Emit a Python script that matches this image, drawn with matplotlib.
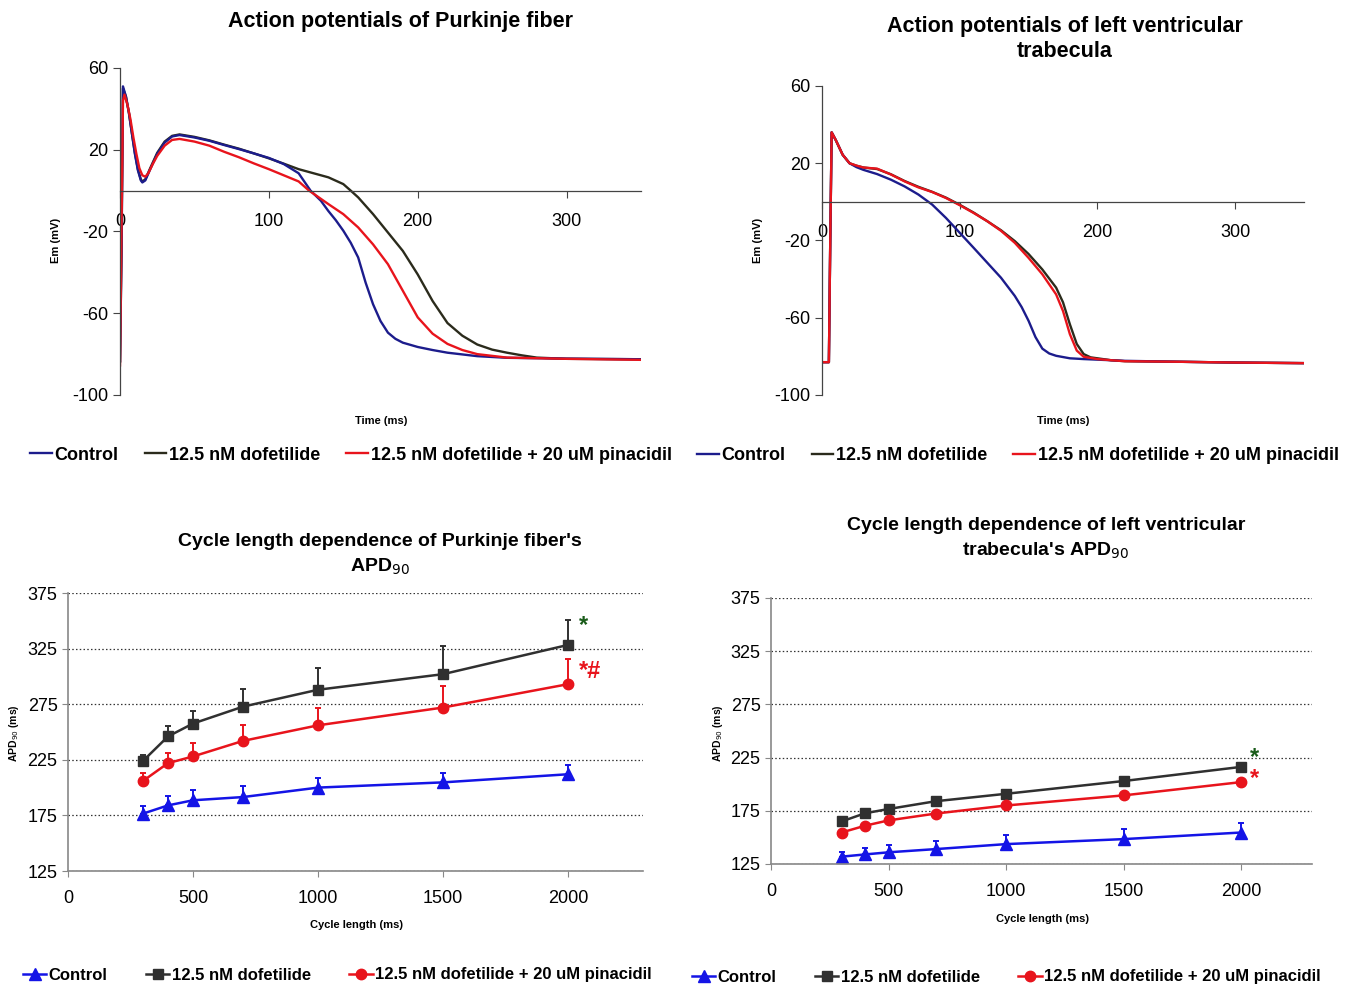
import numpy as np
import matplotlib.pyplot as plt
from matplotlib.lines import Line2D

plt.rcParams['font.family'] = ['Liberation Sans', 'DejaVu Sans']
plt.rcParams['axes.unicode_minus'] = False

# --- action potentials, Purkinje fiber (t in ms, Em in mV)
pk_ctrl_t = [-1, 0, 1, 2, 4, 6, 8, 10, 12, 14, 15, 17, 20, 25, 30, 35, 40, 50, 60, 70, 80, 90, 100,
             110, 120, 128, 135, 140, 145, 150, 155, 160, 165, 170, 175, 180, 185, 190, 200, 210,
             220, 240, 260, 300, 350]
pk_ctrl_v = [-82, -84, -30, 51, 46, 38, 28, 18, 10, 5, 4, 5, 10, 18, 23.5, 26.5, 27.2, 26, 24.4, 22.3,
             20.3, 18.2, 16, 13, 8.5, 0, -5, -10, -14.5, -19.6, -25.5, -32.7, -45, -55.6, -63.8, -69.5,
             -72.5, -74.4, -76.5, -78, -79.3, -81, -81.8, -82.2, -82.5]
pk_dof_t = [-1, 0, 1, 2, 4, 6, 8, 10, 12, 14, 15, 17, 20, 25, 30, 35, 40, 50, 60, 70, 80, 90, 100,
            110, 120, 130, 140, 150, 155, 160, 170, 180, 190, 200, 210, 220, 230, 240, 250, 260,
            270, 280, 300, 350]
pk_dof_v = [-82, -84, -30, 50, 46, 38, 28, 18.5, 10.5, 5.5, 4.5, 5.5, 10.5, 18.5, 24, 26.8, 27.5, 26.3,
            24.6, 22.5, 20.5, 18.2, 15.8, 13.2, 10.5, 8.5, 6.5, 3.2, 0, -3.3, -11.5, -20.5, -29.5, -41,
            -54, -64.8, -71, -75.3, -77.8, -79.3, -80.6, -81.7, -82.3, -82.5]
pk_pin_t = [-1, 0, 1, 2, 3, 5, 7, 9, 11, 13, 15, 17, 19, 22, 25, 30, 35, 40, 50, 60, 70, 80, 90, 100,
            110, 120, 127, 130, 140, 150, 160, 170, 180, 190, 200, 210, 220, 230, 240, 260, 300, 350]
pk_pin_v = [-85, -86, -20, 44, 47, 42, 35, 26, 18, 11, 7.5, 6.8, 8.5, 13, 17, 22, 24.8, 25.3, 24, 22,
            19, 16.3, 13.3, 10.5, 7.5, 4.5, 0, -1.5, -6.6, -11.5, -18, -26.3, -36, -49, -62, -70, -75,
            -78, -80, -81.7, -82.3, -82.8]

# --- action potentials, left ventricular trabecula
lv_ctrl_t = [0, 5, 6, 7, 10, 15, 20, 25, 30, 40, 50, 60, 70, 80, 90, 100, 110, 120, 130, 140, 145,
             150, 155, 160, 165, 170, 180, 190, 200, 220, 260, 300, 350]
lv_ctrl_v = [-83, -83, -20, 36, 32, 24.4, 20, 18, 16.6, 14.4, 11.5, 8, 3.8, -1.4, -8.3, -16, -23.7,
             -31.5, -39.3, -48.7, -54.5, -61.6, -70, -76, -78.5, -79.7, -81, -81.4, -81.7, -82.3,
             -82.8, -83.2, -83.5]
lv_dof_t = [0, 5, 6, 7, 10, 15, 20, 25, 30, 40, 50, 60, 70, 80, 90, 100, 110, 120, 130, 140, 150,
            160, 170, 175, 180, 185, 190, 195, 200, 210, 220, 260, 300, 350]
lv_dof_v = [-83, -83, -20, 36, 32, 24.4, 20, 18.7, 17.8, 17, 14.3, 10.8, 7.8, 5.2, 2.2, -1.5, -5.5,
            -10, -14.7, -20.3, -27, -35, -44.4, -52, -63.4, -73.6, -78.8, -80.5, -81, -82, -82.5,
            -82.8, -83.2, -83.5]
lv_pin_t = [0, 5, 6, 7, 10, 15, 20, 25, 30, 40, 50, 60, 70, 80, 90, 100, 110, 120, 130, 140, 150,
            160, 170, 175, 180, 185, 190, 200, 210, 220, 260, 300, 350]
lv_pin_v = [-83, -83, -20, 36, 32, 24.4, 20, 18.8, 17.8, 17.2, 14.2, 10.6, 7.5, 5.1, 2, -1.7, -5.7,
            -10, -15, -21.2, -29, -37.5, -47.9, -56.5, -68.5, -77, -80.2, -81.4, -82, -82.5, -82.8,
            -83.2, -83.5]

# --- APD90 vs cycle length
cl = [300, 400, 500, 700, 1000, 1500, 2000]
pk_apd_ctrl = [176.6, 184, 188.6, 191.5, 200, 204.7, 212]
pk_err_ctrl = [7, 8, 9, 9.5, 8.6, 8.3, 8.5]
pk_apd_dof = [224, 246, 257.6, 272.8, 288, 302, 328.3]
pk_err_dof = [5, 9, 11.4, 16.2, 20, 25, 22.7]
pk_apd_pin = [206, 222, 228, 242, 256, 272, 293]
pk_err_pin = [7, 9, 12, 14, 16, 19, 23]
lv_apd_ctrl = [131.9, 134, 136, 139, 143.7, 148.4, 154.6]
lv_err_ctrl = [4.1, 6.5, 7, 8, 8.3, 9.6, 8.9]
lv_apd_dof = [165, 172.7, 176.7, 184, 191, 203, 216.3]
lv_err_dof = [2, 2, 2, 2, 2.5, 2.5, 2.5]
lv_apd_pin = [154.6, 161, 166, 172.4, 180, 189.5, 202]
lv_err_pin = [2, 2, 2, 2, 2.5, 2.5, 2.5]

labels = ['Control', '12.5 nM dofetilide', '12.5 nM dofetilide + 20 uM pinacidil']

W, H = 1354, 986
fig = plt.figure(figsize=(W / 100, H / 100), dpi=100)


def box(x0, y0, x1, y1):
    return [x0 / W, 1 - y1 / H, (x1 - x0) / W, (y1 - y0) / H]


def ap_axes(rect, traces, title, title_y, title_x, ylab_x, xlab_xy, leg_xy):
    ax = fig.add_axes(box(*rect))
    cols = ['#1c1c8c', '#2b2b1c', '#e8141c']
    lines = [None] * 3
    # dofetilide drawn first so control and pinacidil traces sit on top
    for i in [1, 0, 2]:
        t, v = traces[i]
        lines[i], = ax.plot(t, v, color=cols[i], lw=1.7, label=labels[i])
    ax.set_xlim(0, 350)
    ax.set_ylim(-100, 60)
    ax.spines['top'].set_visible(False)
    ax.spines['right'].set_visible(False)
    ax.spines['bottom'].set_position(('data', 0))
    for s in ['left', 'bottom']:
        ax.spines[s].set_color('#444444')
        ax.spines[s].set_linewidth(0.9)
    ax.set_xticks([0, 100, 200, 300])
    ax.set_yticks([60, 20, -20, -60, -100])
    ax.tick_params(axis='x', length=5, width=0.8, color='#444444', labelsize=13, pad=11)
    ax.tick_params(axis='y', length=5, width=0.8, color='#444444', labelsize=13)
    fig.text(title_x / W, 1 - title_y / H, title, ha='center', va='center',
             fontsize=15.5, fontweight='bold', linespacing=1.3)
    fig.text(ylab_x / W, 1 - 240 / H, 'Em (mV)', rotation=90, ha='center', va='center',
             fontsize=8, fontweight='bold')
    fig.text(xlab_xy[0] / W, 1 - xlab_xy[1] / H, 'Time (ms)', ha='center', va='center',
             fontsize=8, fontweight='bold')
    fig.legend(lines, labels, loc='center left', bbox_to_anchor=(leg_xy[0] / W, 1 - leg_xy[1] / H),
               ncol=3, frameon=False, prop={'weight': 'bold', 'size': 13},
               handlelength=1.2, handletextpad=0.15, columnspacing=1.45, borderaxespad=0, borderpad=0)
    return ax


ap_axes((120, 68, 641, 395), [(pk_ctrl_t, pk_ctrl_v), (pk_dof_t, pk_dof_v), (pk_pin_t, pk_pin_v)],
        'Action potentials of Purkinje fiber', 22, 401, 56, (381, 421), (30, 455))
ap_axes((822, 86, 1304, 395), [(lv_ctrl_t, lv_ctrl_v), (lv_dof_t, lv_dof_v), (lv_pin_t, lv_pin_v)],
        'Action potentials of left ventricular\ntrabecula', 39, 1065, 758, (1063, 421), (697, 456))


def apd_axes(rect, series, title, title_x, title_y, ylab_x, xlab_xy, leg_xy, marks):
    ax = fig.add_axes(box(*rect))
    styles = [('#1414e6', '^', 8), ('#303030', 's', 7.5), ('#e8141c', 'o', 7.5)]
    handles = []
    for (y, e), (c, m, ms), lab in zip(series, styles, labels):
        ax.errorbar(cl, y, yerr=[np.zeros(len(e)), e], color=c, marker=m, ms=ms, lw=1.8,
                    elinewidth=1.4, capsize=2.5, capthick=1.4)
        handles.append(Line2D([], [], color=c, marker=m, ms=ms, lw=1.8))
    ax.set_xlim(0, 2300)
    ax.set_ylim(125, 375)
    ax.set_xticks([0, 500, 1000, 1500, 2000])
    ax.set_yticks([125, 175, 225, 275, 325, 375])
    ax.yaxis.grid(True, ls=(0, (1.2, 1.8)), color='#333333', lw=0.9)
    ax.set_axisbelow(True)
    ax.spines['top'].set_visible(False)
    ax.spines['right'].set_visible(False)
    for s in ['left', 'bottom']:
        ax.spines[s].set_color('#888888')
        ax.spines[s].set_linewidth(1.2)
    ax.tick_params(axis='both', length=4, width=0.8, color='#888888', labelsize=13)
    ax.tick_params(axis='x', pad=10)
    for (x, y, s, c) in marks:
        ax.text(x, y, s, color=c, fontsize=17, fontweight='bold', ha='left', va='center')
    fig.text(title_x / W, 1 - title_y / H, title, ha='center', va='center',
             fontsize=14, fontweight='bold', linespacing=1.45)
    fig.text(ylab_x / W, 1 - 733 / H, 'APD$_{90}$ (ms)', rotation=90, ha='center', va='center',
             fontsize=7.5, fontweight='bold')
    fig.text(xlab_xy[0] / W, 1 - xlab_xy[1] / H, 'Cycle length (ms)', ha='center', va='center',
             fontsize=8, fontweight='bold')
    fig.legend(handles, labels, loc='center left', bbox_to_anchor=(leg_xy[0] / W, 1 - leg_xy[1] / H),
               ncol=3, frameon=False, prop={'weight': 'bold', 'size': 12},
               handlelength=1.4, handletextpad=0.15, columnspacing=2.3, borderaxespad=0, borderpad=0)
    return ax


apd_axes((68, 593, 643, 871),
         [(pk_apd_ctrl, pk_err_ctrl), (pk_apd_dof, pk_err_dof), (pk_apd_pin, pk_err_pin)],
         "Cycle length dependence of Purkinje fiber's\nAPD$_{90}$", 380, 555, 14, (356, 925), (23, 975),
         [(2045, 346, '*', '#1a5c1a'), (2045, 304, '*#', '#e8141c')])
apd_axes((771, 598, 1312, 864),
         [(lv_apd_ctrl, lv_err_ctrl), (lv_apd_dof, lv_err_dof), (lv_apd_pin, lv_err_pin)],
         "Cycle length dependence of left ventricular\ntrabecula's APD$_{90}$", 1046, 539, 718, (1042, 919),
         (692, 977),
         [(2035, 225, '*', '#1a5c1a'), (2035, 205, '*', '#e8141c')])

plt.savefig('out.png', dpi=100)
